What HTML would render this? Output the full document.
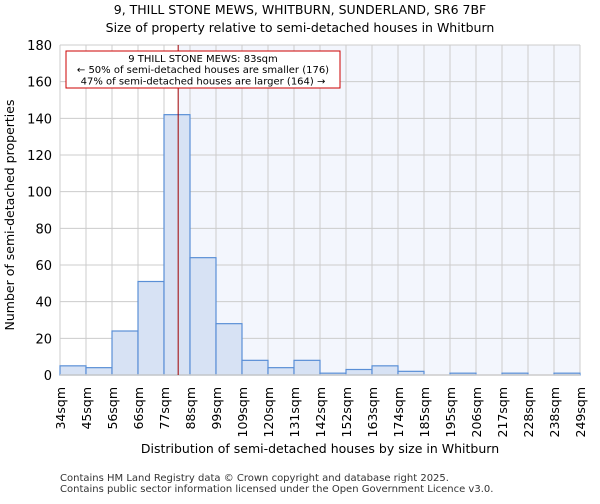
<!DOCTYPE html>
<html><head><meta charset="utf-8"><style>
body{margin:0;background:#fff;font-family:"DejaVu Sans","Liberation Sans",sans-serif;}
</style></head><body>
<svg id="chart" width="600" height="500" xmlns="http://www.w3.org/2000/svg" font-family="DejaVu Sans, Liberation Sans, sans-serif">
<text x="300" y="14" text-anchor="middle" font-size="12.5">9, THILL STONE MEWS, WHITBURN, SUNDERLAND, SR6 7BF</text>
<text x="300" y="32" text-anchor="middle" font-size="12.5">Size of property relative to semi-detached houses in Whitburn</text>
<g id="plot"></g>
<text x="320" y="453" text-anchor="middle" font-size="12.5">Distribution of semi-detached houses by size in Whitburn</text>
<text transform="translate(14,215) rotate(-90)" text-anchor="middle" font-size="12.5">Number of semi-detached properties</text>
<text x="60" y="481" font-size="10" fill="#333">Contains HM Land Registry data © Crown copyright and database right 2025.</text>
<text x="60" y="492" font-size="10" fill="#333">Contains public sector information licensed under the Open Government Licence v3.0.</text>
</svg>
<script>
const binLabels=["34sqm","45sqm","56sqm","66sqm","77sqm","88sqm","99sqm","109sqm","120sqm","131sqm","142sqm","152sqm","163sqm","174sqm","185sqm","195sqm","206sqm","217sqm","228sqm","238sqm","249sqm"];
const counts=[5,4,24,51,142,64,28,8,4,8,1,3,5,2,0,1,0,1,0,1];
const yTicks=[0,20,40,60,80,100,120,140,160,180];
const markerBin=4.545;
const NS="http://www.w3.org/2000/svg";
const L=60,R=580,T=45,B=375,yMax=180;
const bw=(R-L)/counts.length;
const xs=i=>L+i*bw;
const ys=v=>B-(v/yMax)*(B-T);
const g=document.getElementById('plot');
function mk(t,a){const e=document.createElementNS(NS,t);for(const k in a)e.setAttribute(k,a[k]);g.appendChild(e);return e;}
let e;
const mx=xs(markerBin);
e=mk('rect',{x:L,y:T,width:R-L,height:B-T,fill:'#fff'});


e=mk('rect',{x:mx,y:T,width:R-mx,height:B-T,fill:'#f3f6fd'});


yTicks.forEach(v=>{
 e=mk('line',{x1:L,x2:R,y1:ys(v),y2:ys(v),stroke:'#cccccc','stroke-width':1});
 
 
 e=mk('text',{x:L-8,y:ys(v)+5,'text-anchor':'end','font-size':13});
 e.textContent=v;
 
 
});
binLabels.forEach((lab,i)=>{
 e=mk('line',{x1:xs(i),x2:xs(i),y1:T,y2:B,stroke:'#cccccc','stroke-width':1});
 
 
 e=mk('text',{transform:`translate(${xs(i)+5},${B+12}) rotate(-90)`,'text-anchor':'end','font-size':12.5});
 e.textContent=lab;
 
 
});
counts.forEach((c,i)=>{
 if(c<=0)return;
 e=mk('rect',{x:xs(i),y:ys(c),width:bw,height:B-ys(c),fill:'#d7e2f4',stroke:'#5a8fd6','stroke-width':1.2});
 
 
});
e=mk('line',{x1:L,x2:R,y1:B,y2:B,stroke:'#cccccc','stroke-width':1.5});


e=mk('line',{x1:mx,x2:mx,y1:T,y2:B,stroke:'#a00000','stroke-width':1});


e=mk('rect',{x:66,y:51,width:274,height:37,fill:'#fff',stroke:'#cc0000','stroke-width':1});


["9 THILL STONE MEWS: 83sqm","← 50% of semi-detached houses are smaller (176)","47% of semi-detached houses are larger (164) →"].forEach((t,k)=>{
 e=mk('text',{x:203,y:62+k*11.2,'text-anchor':'middle','font-size':10});
 e.textContent=t;
 
 
});
</script>
</body></html>
